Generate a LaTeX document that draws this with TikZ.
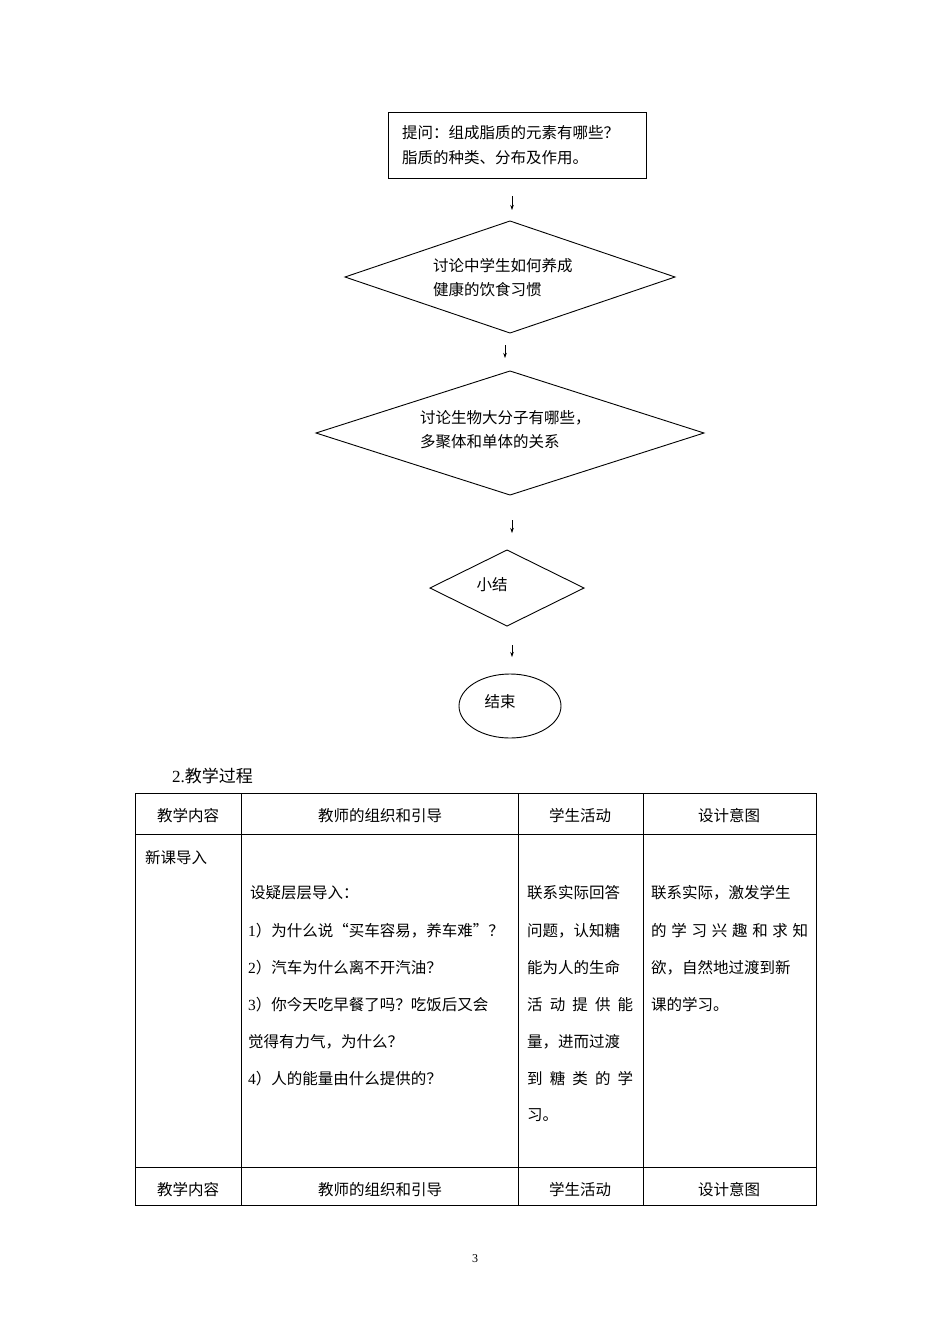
\documentclass[tikz,border=0pt]{standalone}
\usepackage{fontspec}
\setmainfont{Noto Sans CJK SC}
\newfontfamily\latinf{Liberation Serif}
\usetikzlibrary{shapes.geometric,arrows.meta}
\begin{document}
\begin{tikzpicture}[x=1pt,y=-1pt,
  every node/.style={font=\fontsize{15.5}{18}\selectfont,inner sep=0pt},
  shp/.style={draw,line width=0.9pt},
  arr/.style={-{Stealth[length=5pt,width=3.5pt]},line width=0.6pt},
  tl/.style={anchor=west},
  tc/.style={anchor=center},
  grid/.style={line width=1pt}]
\useasboundingbox (0,0) rectangle (950,1344);
% flowchart
\node[shp,minimum width=258,minimum height=66] (q) at (517,145) {};
\node[tl] (qt1) at (402,133) {提问：组成脂质的元素有哪些？};
\node[tl] (qt2) at (402,158) {脂质的种类、分布及作用。};
\coordinate (a1s) at (512,196); \coordinate (a1e) at (512,210);
\draw[arr] (a1s) -- (a1e);
\draw[shp] (345,277) -- (510,221) -- (675,277) -- (510,333) -- cycle;
\node[tl] (d1a) at (433,266) {讨论中学生如何养成};
\node[tl] (d1b) at (433,290) {健康的饮食习惯};
\coordinate (a2s) at (505,345); \coordinate (a2e) at (505,358);
\draw[arr] (a2s) -- (a2e);
\draw[shp] (316,433) -- (510,371) -- (704,433) -- (510,495) -- cycle;
\node[tl] (d2a) at (420,418) {讨论生物大分子有哪些，};
\node[tl] (d2b) at (420,442) {多聚体和单体的关系};
\coordinate (a3s) at (512,520); \coordinate (a3e) at (512,533);
\draw[arr] (a3s) -- (a3e);
\draw[shp] (430,588) -- (507,550) -- (584,588) -- (507,626) -- cycle;
\node[tc] (d3) at (492,585) {小结};
\coordinate (a4s) at (512,645); \coordinate (a4e) at (512,657);
\draw[arr] (a4s) -- (a4e);
\node[shp,ellipse,minimum width=102,minimum height=64] (end) at (510,706) {};
\node[tc] (endt) at (500,702) {结束};
% heading
\node[tl,font=\fontsize{17}{20}\selectfont] (h) at (172,776) {{\latinf 2.}教学过程};
% table
\draw[grid] (135,793) rectangle (816,1205);
\foreach \x in {241,518,643} \draw[grid] (\x,793) -- (\x,1205);
\foreach \y in {834,1167} \draw[grid] (135,\y) -- (816,\y);
\foreach \y/\n in {816/a,1190/b}{
 \node[tc] (c1\n) at (188,\y) {教学内容};
 \node[tc] (c2\n) at (380,\y) {教师的组织和引导};
 \node[tc] (c3\n) at (580,\y) {学生活动};
 \node[tc] (c4\n) at (729,\y) {设计意图};
}
\node[tl] (xk) at (145,858) {新课导入};
\node[tl] (t0) at (250,893) {设疑层层导入：};
\node[tl] (t1) at (248,931) {{\latinf 1}）为什么说“买车容易，养车难”？};
\node[tl] (t2) at (248,968) {{\latinf 2}）汽车为什么离不开汽油？};
\node[tl] (t3) at (248,1005) {{\latinf 3}）你今天吃早餐了吗？吃饭后又会};
\node[tl] (t4) at (248,1042) {觉得有力气，为什么？};
\node[tl] (t5) at (248,1079) {{\latinf 4}）人的能量由什么提供的？};
\node[tl] (s1) at (527,893) {\makebox[106pt][s]{联系实际回答}};
\node[tl] (s2) at (527,931) {\makebox[106pt][s]{问题，认知糖}};
\node[tl] (s3) at (527,968) {\makebox[106pt][s]{能为人的生命}};
\node[tl] (s4) at (527,1005) {\makebox[106pt][s]{活\hfill 动\hfill 提\hfill 供\hfill 能}};
\node[tl] (s5) at (527,1042) {\makebox[106pt][s]{量，进而过渡}};
\node[tl] (s6) at (527,1079) {\makebox[106pt][s]{到\hfill 糖\hfill 类\hfill 的\hfill 学}};
\node[tl] (s7) at (527,1115) {习。};
\node[tl] (p1) at (651,893) {\makebox[157pt][s]{联系实际，激发学生}};
\node[tl] (p2) at (651,931) {\makebox[157pt][s]{的\hfill 学\hfill 习\hfill 兴\hfill 趣\hfill 和\hfill 求\hfill 知}};
\node[tl] (p3) at (651,968) {\makebox[157pt][s]{欲，自然地过渡到新}};
\node[tl] (p4) at (651,1005) {课的学习。};
\node[tc,font=\latinf\fontsize{12}{14}\selectfont] (pg) at (475,1259) {3};
\end{tikzpicture}
\end{document}
